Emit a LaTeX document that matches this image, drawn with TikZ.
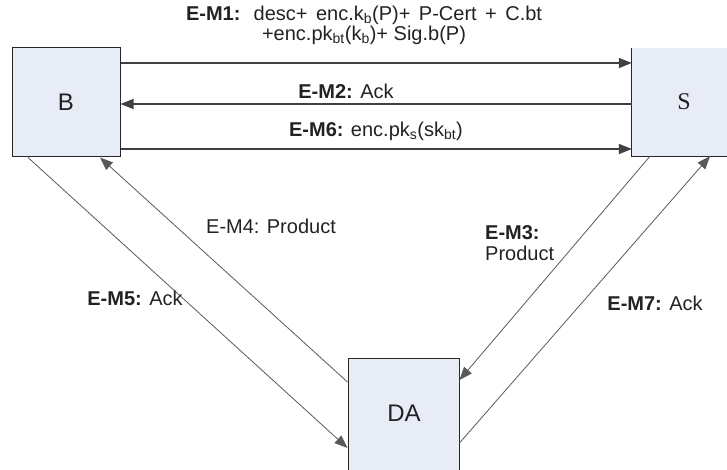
\documentclass[tikz,border=0pt]{standalone}
\usepackage{fontspec}
\setmainfont{Liberation Sans}
\newfontfamily\serifS{Liberation Serif}
\usetikzlibrary{arrows.meta}
\definecolor{boxfill}{RGB}{232,236,246}
\definecolor{ink}{RGB}{34,34,34}
\hbadness=10000
\begin{document}
\begin{tikzpicture}[x=1pt,y=-1pt,
  box/.style={draw=black!85, fill=boxfill, line width=1pt, inner sep=0pt},
  big/.style={font=\fontsize{24}{24}\selectfont, text=ink, inner sep=0pt},
  tipA/.style={-{Triangle[length=13pt,width=10pt]}},
  hline/.style={draw=black!75, line width=1.3pt, tipA},
  dline/.style={draw=black!65, line width=0.8pt, tipA},
  lbl/.style={font=\fontsize{20}{18}\selectfont, text=ink, inner sep=0pt}
]
\useasboundingbox (0,0) rectangle (727,470);
\clip (0,0) rectangle (727,470);

% boxes
\node[box, minimum width=108pt, minimum height=109pt] (B) at (66,102.5) {};
\node[big] (Bt) at (66,102) {B};
\node[fill=boxfill, draw=none, inner sep=0pt, minimum width=104pt, minimum height=108pt] (S) at (684,102) {};
\draw[black!85, line width=1pt] (S.north west) -- (S.south west) -- (S.south east);
\node[big, font=\fontsize{24}{24}\serifS] (St) at (684,102) {S};
\node[box, minimum width=111pt, minimum height=125pt, anchor=north] (DA) at (403.5,358) {};
\node[big] (DAt) at (404,413) {DA};

% helper coordinates
\coordinate (y1) at (0,63);
\coordinate (y2) at (0,104);
\coordinate (y6) at (0,149);
\coordinate (x5) at (28,0);
\coordinate (x4) at (100,0);
\coordinate (x3) at (650,0);
\coordinate (x7) at (710,0);
\coordinate (w4) at (0,382);
\coordinate (w5) at (0,448);
\coordinate (e3) at (0,380);
\coordinate (e7) at (0,443);

% horizontal connectors
\draw[hline] (B.east |- y1) -- (S.west |- y1);
\draw[hline] (S.west |- y2) -- (B.east |- y2);
\draw[hline] (B.east |- y6) -- (S.west |- y6);

% diagonal connectors
\draw[dline] (B.south -| x5) -- (DA.west |- w5);
\draw[dline] (DA.west |- w4) -- (B.south -| x4);
\draw[dline] (S.south -| x3) -- (DA.east |- e3);
\draw[dline] (DA.east |- e7) -- (S.south -| x7);

% labels
\node[lbl, align=center] (l1) at (364,25.5) {\makebox[356pt][s]{\textbf{E-M1:} desc+ enc.k\textsubscript{b}(P)+ P-Cert + C.bt}\\+enc.pk\textsubscript{bt}(k\textsubscript{b})+ Sig.b(P)};
\node[lbl] (l2) at (346,91) {\textbf{E-M2:} Ack};
\node[lbl] (l6) at (376,131) {\textbf{E-M6:} enc.pk\textsubscript{s}(sk\textsubscript{bt})};
\node[lbl] (l4) at (271,226) {E-M4: Product};
\node[lbl] (l5) at (135,298) {\textbf{E-M5:} Ack};
\node[lbl, align=left, anchor=west, font=\fontsize{20}{21}\selectfont] (l3) at (485,243) {\textbf{E-M3:}\\Product};
\node[lbl] (l7) at (655,303) {\textbf{E-M7:} Ack};
\end{tikzpicture}
\end{document}
